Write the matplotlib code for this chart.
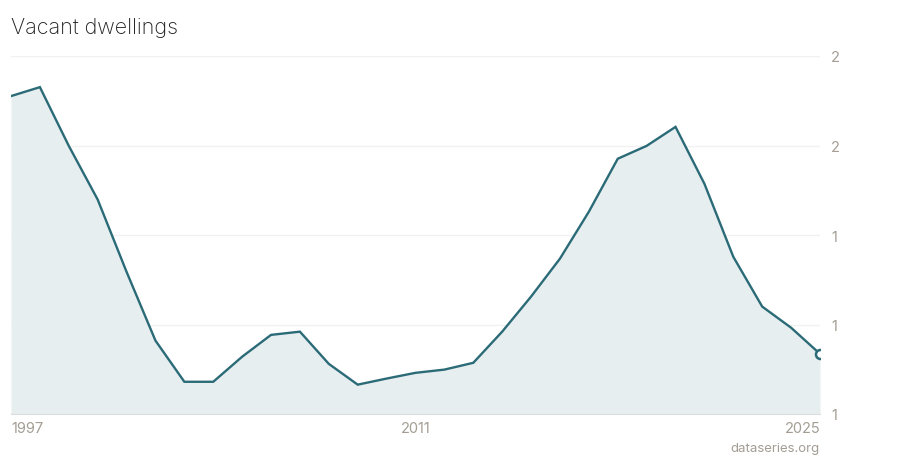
import matplotlib
matplotlib.use("Agg")
import matplotlib.pyplot as plt

years = list(range(1997, 2026))
values = [1.888, 1.913, 1.749, 1.599, 1.397, 1.205, 1.090, 1.090, 1.160, 1.221,
          1.230, 1.140, 1.082, 1.099, 1.115, 1.124, 1.143, 1.230, 1.328, 1.434,
          1.565, 1.713, 1.749, 1.802, 1.643, 1.439, 1.300, 1.241, 1.168]

y_ticks = [1.0, 1.25, 1.5, 1.75, 2.0]
y_labels = ["1", "1", "1", "2", "2"]
x_ticks = [1997, 2011, 2025]

line_col = "#2b6b77"
fill_col = "#e7eef0"
text_col = "#a39d94"

plt.rcParams["font.family"] = ["Inter", "DejaVu Sans"]

fig = plt.figure(figsize=(9, 4.6), dpi=100)
ax = fig.add_axes([11 / 900, 45 / 460, 809 / 900, 358 / 460])

ax.fill_between(years, values, 1.0, color=fill_col, lw=0)
ax.plot(years, values, color=line_col, lw=1.7, solid_joinstyle="miter")
ax.plot(years[-1], values[-1], "o", ms=6.5, mfc="white", mec=line_col, mew=1.8)

ax.set_xlim(1997, 2025)
ax.set_ylim(1.0, 2.0)

ax.set_yticks(y_ticks)
ax.set_yticklabels(y_labels)
ax.yaxis.tick_right()
ax.set_xticks(x_ticks)
ax.set_xticklabels([str(x) for x in x_ticks])
ax.tick_params(length=0, colors=text_col, labelsize=10.5)
ax.tick_params(axis="y", pad=8)
ax.tick_params(axis="x", pad=5)
labels = ax.get_xticklabels()
labels[0].set_ha("left")
labels[-1].set_ha("right")

ax.grid(axis="y", color="#f1f1f1", lw=1)
ax.set_axisbelow(True)
for s in ["top", "left", "right"]:
    ax.spines[s].set_visible(False)
ax.spines["bottom"].set_color("#d8dcdc")

fig.text(11 / 900, 1 - 28 / 460, "Vacant dwellings", fontsize=15.5,
         fontweight="light", color="#222222", va="center", ha="left")
fig.text(820 / 900, 1 - 449 / 460, "dataseries.org", fontsize=9.5,
         color=text_col, va="center", ha="right")

fig.savefig("out.png", dpi=100)
